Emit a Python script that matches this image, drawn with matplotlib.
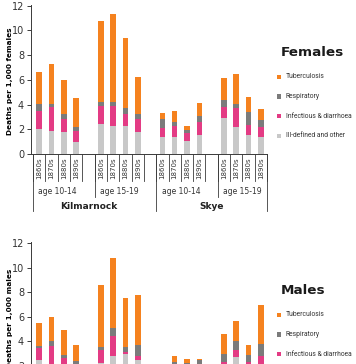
"""Stacked bars of deaths per 1,000 by cause, females and males."""

import matplotlib

matplotlib.use("Agg")
import matplotlib.pyplot as plt
from matplotlib.patches import Rectangle

decades = ["1860s", "1870s", "1880s", "1890s"]
ages = ["age 10-14", "age 15-19"]
places = ["Kilmarnock", "Skye"]
causes = ["Tuberculosis", "Respiratory", "Infectious & diarrhoea", "Ill-defined and other"]

# per bar, ordered Kilmarnock 10-14, Kilmarnock 15-19, Skye 10-14, Skye 15-19
f_ill = [2.06, 1.84, 1.78, 0.97, 2.41, 2.30, 2.27, 1.78, 1.38, 1.35, 1.07, 1.55, 2.88, 2.22, 1.55, 1.36]
f_inf = [1.39, 1.94, 1.04, 0.85, 1.51, 1.55, 0.96, 1.08, 0.74, 0.95, 0.59, 1.03, 0.90, 1.51, 0.76, 0.79]
f_resp = [0.59, 0.28, 0.40, 0.36, 0.25, 0.36, 0.53, 0.41, 0.68, 0.28, 0.27, 0.53, 0.62, 0.34, 1.09, 0.56]
f_tb = [2.63, 3.21, 2.74, 2.38, 6.61, 7.14, 5.63, 2.95, 0.54, 0.88, 0.32, 1.02, 1.76, 2.39, 1.19, 0.94]

m_ill = [2.50, 2.00, 1.80, 1.30, 2.25, 2.79, 2.93, 2.47, 1.00, 1.30, 1.20, 1.30, 2.00, 2.69, 1.90, 2.00]
m_inf = [0.94, 1.63, 0.86, 0.70, 1.05, 1.68, 0.21, 0.32, 0.40, 0.50, 0.50, 0.50, 0.33, 0.64, 0.43, 0.79]
m_resp = [0.19, 0.38, 0.24, 0.39, 0.22, 0.59, 0.38, 0.89, 0.30, 0.50, 0.50, 0.70, 0.60, 0.70, 0.52, 0.98]
m_tb = [1.87, 1.99, 1.98, 1.35, 5.05, 5.70, 3.97, 4.12, 0.20, 0.49, 0.33, 0.05, 1.69, 1.62, 0.89, 3.21]

COLORS = {
    "Tuberculosis": "#f5821f",
    "Respiratory": "#7b7b7b",
    "Infectious & diarrhoea": "#e33b84",
    "Ill-defined and other": "#c8c8c8",
}
LINE = "#3a3a3a"

n_groups = len(places) * len(ages)
xpos = [g * 5 + i for g in range(n_groups) for i in range(len(decades))]


def draw_panel(ax, ill, inf, resp, tb, ylabel, table=True):
    bottom = [0.0] * len(xpos)
    for name, vals in [
        ("Ill-defined and other", ill),
        ("Infectious & diarrhoea", inf),
        ("Respiratory", resp),
        ("Tuberculosis", tb),
    ]:
        ax.bar(xpos, vals, width=0.45, bottom=bottom, color=COLORS[name], linewidth=0)
        bottom = [b + v for b, v in zip(bottom, vals)]

    ax.set_xlim(-0.67, 18.5)
    ax.set_ylim(0, 12.05)
    ax.set_yticks(range(0, 13, 2))
    ax.tick_params(axis="y", labelsize=7, length=3, width=0.7, color=LINE, pad=2, labelcolor="#333333")
    ax.set_xticks([])
    for side in ["top", "right"]:
        ax.spines[side].set_visible(False)
    for side in ["left", "bottom"]:
        ax.spines[side].set_color(LINE)
        ax.spines[side].set_linewidth(0.7)
    ax.set_ylabel(ylabel, fontsize=5.3, fontweight="bold")
    ax.yaxis.set_label_coords(-0.077, 0.49)

    if not table:
        return
    # category table under the axis
    tr = ax.get_xaxis_transform()
    for g in range(n_groups):
        x0 = g * 5
        for i, dec in enumerate(decades):
            ax.text(x0 + i, -0.02, dec, transform=tr, rotation=90, ha="center", va="top",
                    fontsize=5, color="#333333")
        for k in range(len(decades) + 1):
            ax.plot([x0 - 0.5 + k] * 2, [0, -0.18], transform=tr, color=LINE, lw=0.6, clip_on=False)
        ax.text(x0 + 1.5, -0.255, ages[g % 2], transform=tr, ha="center", va="center",
                fontsize=5.5, color="#333333")
        depth = -0.385 if g % 2 == 0 else -0.29
        ax.plot([x0 - 0.5] * 2, [0, depth], transform=tr, color=LINE, lw=0.6, clip_on=False)
    ax.plot([18.5] * 2, [0, -0.385], transform=tr, color=LINE, lw=0.6, clip_on=False)
    for p, place in enumerate(places):
        ax.text(p * 10 + 4, -0.35, place, transform=tr, ha="center", va="center",
                fontsize=6.5, fontweight="bold", color="#222222")


def draw_key(fig, title, y_title):
    W, H = fig.get_size_inches() * fig.dpi
    fig.text(281 / W, 1 - y_title / H, title, fontsize=9.7, fontweight="bold",
             ha="left", va="center", color="#1a1a1a")
    for k, name in enumerate(causes):
        yc = y_title + 24.7 + k * 19.7
        fig.add_artist(Rectangle((277 / W, 1 - (yc + 2.2) / H), 4.2 / W, 4.4 / H,
                                 transform=fig.transFigure, color=COLORS[name], lw=0))
        fig.text(285.5 / W, 1 - yc / H, name, fontsize=4.85, ha="left", va="center",
                 color="#333333", family="Roboto")


fig = plt.figure(figsize=(3.56, 3.64), dpi=100)
ax_f = fig.add_axes([31 / 356, 210 / 364, 236 / 356, 149 / 364])
ax_m = fig.add_axes([31 / 356, -26.5 / 364, 236 / 356, 148.2 / 364])

draw_panel(ax_f, f_ill, f_inf, f_resp, f_tb, "Deaths per 1,000 females")
# the male panel runs past the bottom edge, so its category table is never visible
draw_panel(ax_m, m_ill, m_inf, m_resp, m_tb, "Deaths per 1,000 males", table=False)
draw_key(fig, "Females", 52)
draw_key(fig, "Males", 290)

fig.savefig("out.png", dpi=100)
plt.close(fig)
